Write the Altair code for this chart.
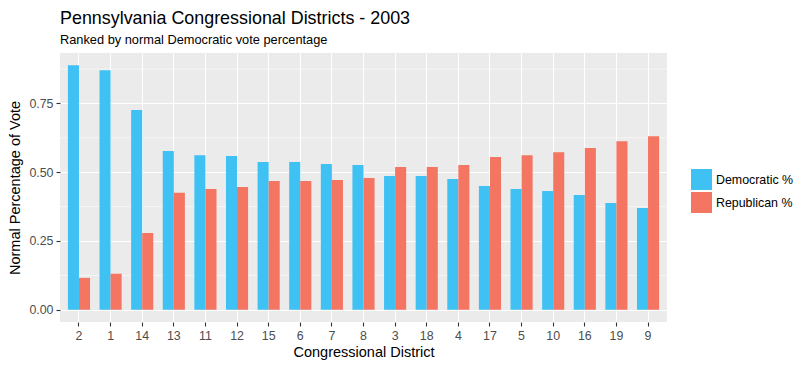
import altair as alt
import pandas as pd

districts = ["2", "1", "14", "13", "11", "12", "15", "6", "7", "8",
             "3", "18", "4", "17", "5", "10", "16", "19", "9"]
dem_pct = [0.889, 0.871, 0.726, 0.577, 0.562, 0.559, 0.537, 0.537, 0.530, 0.526,
           0.486, 0.486, 0.475, 0.450, 0.439, 0.432, 0.417, 0.388, 0.370]
rep_pct = [0.116, 0.131, 0.279, 0.425, 0.439, 0.446, 0.468, 0.468, 0.472, 0.479,
           0.519, 0.519, 0.526, 0.555, 0.562, 0.573, 0.588, 0.613, 0.631]
series = ["Democratic %", "Republican %"]
colors = ["#3FC1F3", "#F37562"]
y_ticks = [0.0, 0.25, 0.5, 0.75]
y_minor = [0.125, 0.375, 0.625, 0.875]

rows = []
for d, dv, rv in zip(districts, dem_pct, rep_pct):
    rows.append({"district": d, "party": series[0], "pct": dv})
    rows.append({"district": d, "party": series[1], "pct": rv})
df = pd.DataFrame(rows)
minor_df = pd.DataFrame({"pct": y_minor})

FONT = "Liberation Sans"
ydom = [-0.0445, 0.9335]

yscale = alt.Scale(domain=ydom, nice=False, zero=False)
yaxis = alt.Axis(title="Normal Percentage of Vote", values=y_ticks, format=".2f",
                 grid=True, gridColor="white", gridWidth=1.1,
                 domain=False, tickColor="#333333", tickSize=4, tickWidth=1.1,
                 labelPadding=3, labelFontSize=12.4, labelColor="#4D4D4D",
                 labelFont=FONT, titleFont=FONT, titleFontSize=14.5,
                 titleFontWeight="normal", titleColor="black", titlePadding=6)

minor = alt.Chart(minor_df).mark_rule(color="white", strokeWidth=0.55).encode(
    y=alt.Y("pct:Q", scale=yscale, axis=yaxis)
)

bars = alt.Chart(df).mark_bar().encode(
    x=alt.X("district:N", sort=districts,
            scale=alt.Scale(paddingInner=0.3, paddingOuter=0.25),
            axis=alt.Axis(title="Congressional District", labelAngle=0, bandPosition=0.5,
                          grid=True, gridColor="white", gridWidth=1.1,
                          domain=False, ticks=True, tickColor="#333333", tickSize=4,
                          tickWidth=1.1, labelPadding=3, labelFontSize=12.4,
                          labelColor="#4D4D4D", labelFont=FONT,
                          titleFont=FONT, titleFontSize=14.5, titleFontWeight="normal",
                          titleColor="black", titlePadding=4)),
    xOffset=alt.XOffset("party:N", sort=series,
                        scale=alt.Scale(paddingInner=0, paddingOuter=0)),
    y=alt.Y("pct:Q", scale=yscale, axis=yaxis),
    color=alt.Color("party:N", sort=series,
                    scale=alt.Scale(domain=series, range=colors),
                    legend=alt.Legend(title=None, orient="none", legendX=631, legendY=116,
                                      symbolType="square", symbolSize=441,
                                      symbolStrokeWidth=0, labelFont=FONT,
                                      labelFontSize=12.4, labelColor="black",
                                      labelOffset=4, rowPadding=2, padding=0)),
)

chart = alt.layer(minor, bars).properties(
    width=607,
    height=269,
    background="white",
    padding={"left": 52, "top": 45, "right": 133, "bottom": 39},
    autosize=alt.AutoSizeParams(type="none"),
    title=alt.TitleParams(
        "Pennsylvania Congressional Districts - 2003",
        subtitle="Ranked by normal Democratic vote percentage",
        anchor="start", frame="group", font=FONT, fontSize=17.9,
        fontWeight="normal", color="black", subtitleFont=FONT,
        subtitleFontSize=12.8, subtitleColor="black", offset=6, subtitlePadding=6,
    ),
).configure_view(fill="#EBEBEB", strokeWidth=0)

chart.save("out.html", embed_options={"renderer": "svg", "actions": False})
